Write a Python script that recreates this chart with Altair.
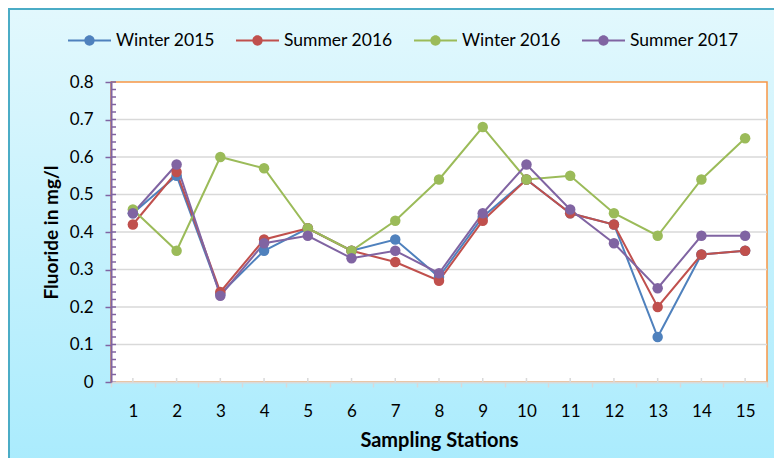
import altair as alt
import pandas as pd

stations = list(range(1, 16))
series_names = ["Winter 2015", "Summer 2016", "Winter 2016", "Summer 2017"]
series_colors = ["#4F81BD", "#C0504D", "#9BBB59", "#8064A2"]
winter2015 = [0.45, 0.55, 0.235, 0.35, 0.41, 0.35, 0.38, 0.28, 0.44, 0.54, 0.45, 0.42, 0.12, 0.34, 0.35]
summer2016 = [0.42, 0.56, 0.24, 0.38, 0.41, 0.35, 0.32, 0.27, 0.43, 0.54, 0.45, 0.42, 0.20, 0.34, 0.35]
winter2016 = [0.46, 0.35, 0.60, 0.57, 0.41, 0.35, 0.43, 0.54, 0.68, 0.54, 0.55, 0.45, 0.39, 0.54, 0.65]
summer2017 = [0.45, 0.58, 0.23, 0.37, 0.39, 0.33, 0.35, 0.29, 0.45, 0.58, 0.46, 0.37, 0.25, 0.39, 0.39]
y_ticks = [0, 0.1, 0.2, 0.3, 0.4, 0.5, 0.6, 0.7, 0.8]
y_grid = [0.1, 0.2, 0.3, 0.4, 0.5, 0.6, 0.7]
y_minor = [round(i * 0.02, 2) for i in range(41)]

W, H = 656, 300
PAD = {"left": 103, "top": 74, "right": 7, "bottom": 76}
FONT = "Lato"

rows = []
for name, vals in zip(series_names, [winter2015, summer2016, winter2016, summer2017]):
    for s, v in zip(stations, vals):
        rows.append({"station": s, "value": v, "series": name})
df = pd.DataFrame(rows)
df["ord"] = df.index

legend_path = ("M-1,-0.045L1,-0.045L1,0.045L-1,0.045Z"
               "M0.24,0A0.24,0.24,0,1,1,-0.24,0A0.24,0.24,0,1,1,0.24,0Z")

legend = alt.Legend(
    title=None, orient="none", direction="horizontal", columns=4,
    legendX=-43, legendY=-63,
    symbolType=legend_path, symbolSize=1849, symbolStrokeWidth=0,
    symbolOpacity=1, labelFont=FONT, labelFontSize=17.5, labelColor="#000000",
    labelOffset=5, columnPadding=21,
)
color = alt.Color(
    "series:N",
    scale=alt.Scale(domain=series_names, range=series_colors),
    legend=legend,
)

xenc = alt.X(
    "station:O",
    scale=alt.Scale(type="band", paddingInner=0, paddingOuter=0),
    sort=stations,
    axis=alt.Axis(
        title="Sampling Stations", labelAngle=0, tickBand="extent",
        domainColor="#d9d9d9", domainWidth=2, tickColor="#d9d9d9", tickWidth=1.5,
        tickSize=5, labelPadding=16, labelFontSize=17, labelFont=FONT, labelColor="#000000",
        titleFont=FONT, titleFontSize=20, titleFontWeight="bold", titleColor="#000000",
        titlePadding=11, grid=False, zindex=1, labelOverlap=False,
    ),
)
yscale = alt.Scale(domain=[0, 0.8], nice=False, zero=True)
yenc = alt.Y(
    "value:Q", scale=yscale,
    axis=alt.Axis(
        title="Fluoride in mg/l", values=y_ticks, format=".1~f",
        domainColor="#8064A2", domainWidth=2, tickColor="#8064A2", tickWidth=1.5,
        tickSize=6, labelPadding=12, labelFontSize=17, labelFont=FONT, labelColor="#000000",
        titleFont=FONT, titleFontSize=19, titleFontWeight="bold", titleColor="#000000",
        titlePadding=8, grid=False, zindex=1, labelOverlap=False,
    ),
)

bg = alt.Chart(pd.DataFrame({"a": [0]})).mark_rect(
    fill=alt.Gradient(
        gradient="linear",
        stops=[alt.GradientStop(color="#e2f8fd", offset=0),
               alt.GradientStop(color="#a8ebfd", offset=1)],
        x1=0, x2=0, y1=0, y2=1,
    ),
    stroke="#4BACC6", strokeWidth=2,
).encode(
    x=alt.value(-PAD["left"] + 1), x2=alt.value(W + PAD["right"] + 20),
    y=alt.value(-PAD["top"] + 1), y2=alt.value(H + PAD["bottom"] + 20),
)

plotbg = alt.Chart(pd.DataFrame({"a": [0]})).mark_rect(
    fill="white", stroke="#F79646", strokeWidth=1.5,
).encode(x=alt.value(0), x2=alt.value(W), y=alt.value(0), y2=alt.value(H))

grid = alt.Chart(pd.DataFrame({"value": y_grid})).mark_rule(
    color="#d9d9d9", strokeWidth=1.5
).encode(y=yenc, x=alt.value(0), x2=alt.value(W))

minor = alt.Chart(pd.DataFrame({"value": y_minor})).mark_rule(
    color="#8064A2", strokeWidth=1.5
).encode(y=yenc, x=alt.value(0), x2=alt.value(5))

xcenter = alt.Chart(pd.DataFrame({"station": stations})).mark_rule(
    color="#d9d9d9", strokeWidth=1.5
).encode(x=xenc, y=alt.value(H - 4), y2=alt.value(H))

lines = alt.Chart(df).mark_line(strokeWidth=2).encode(
    x=xenc, y=yenc, color=color,
)

points = alt.Chart(df).mark_circle(size=110, opacity=1).encode(
    x=xenc, y=yenc, color=color,
    order=alt.Order("ord:Q"),
)

chart = alt.layer(bg, plotbg, grid, xcenter, minor, lines, points).properties(
    width=W, height=H, padding=PAD,
    autosize=alt.AutoSizeParams(type="none"),
    background="white",
).configure_view(stroke=None, fill=None)

chart.save("out.html", embed_options={"renderer": "svg", "actions": False})
